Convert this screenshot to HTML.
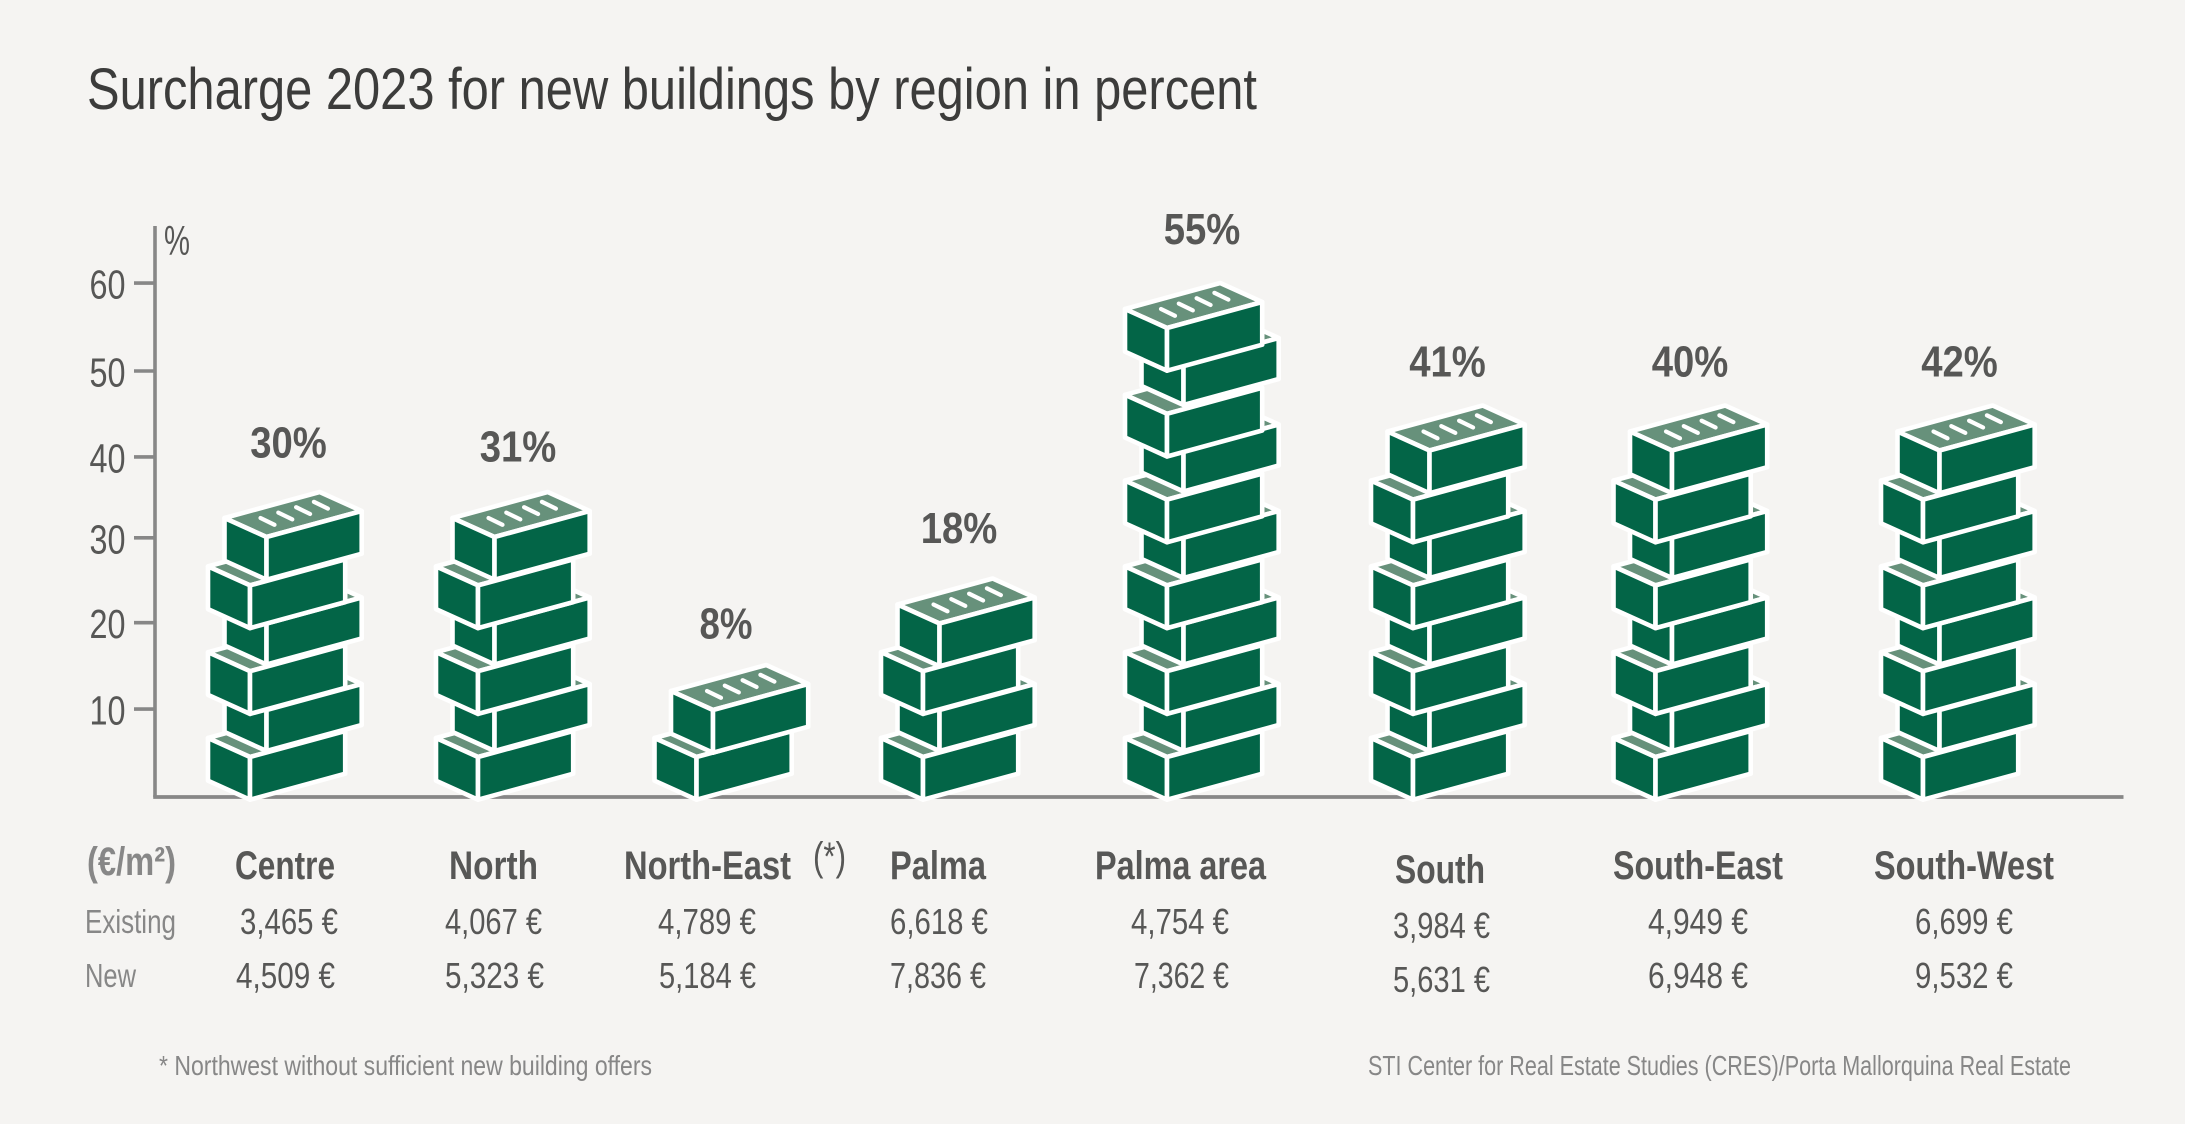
<!DOCTYPE html>
<html lang="en">
<head>
<meta charset="utf-8">
<title>Surcharge 2023 for new buildings by region in percent</title>
<style>
html,body{margin:0;padding:0;background:#f5f4f2;}
svg{display:block;}
text{font-family:"Liberation Sans Narrow","Liberation Sans",sans-serif;}
.dark{fill:#575756;}
.grey{fill:#878787;}
.head{font-size:40px;font-weight:bold;}
.val{font-size:36px;}
.row{font-size:33px;}
.note{font-size:28px;}
</style>
</head>
<body>
<svg id="chart" xmlns="http://www.w3.org/2000/svg" width="2185" height="1124" viewBox="0 0 2185 1124">
  <rect x="0" y="0" width="2185" height="1124" fill="#f5f4f2"/>
  <text x="87" y="109" font-size="58" fill="#3c3c3b" textLength="1170" lengthAdjust="spacingAndGlyphs">Surcharge 2023 for new buildings by region in percent</text>

  <g id="axes"></g>
  <text class="dark" x="164" y="255" font-size="42" textLength="26" lengthAdjust="spacingAndGlyphs">%</text>
  <g id="stacks"></g>

  <g>
    <text class="grey head" x="87" y="875" font-size="38" textLength="89" lengthAdjust="spacingAndGlyphs">(€/m²)</text>
    <text class="grey row" x="85" y="933" textLength="91" lengthAdjust="spacingAndGlyphs">Existing</text>
    <text class="grey row" x="85" y="987" textLength="51" lengthAdjust="spacingAndGlyphs">New</text>

    <text class="dark head" x="235" y="879" textLength="100" lengthAdjust="spacingAndGlyphs">Centre</text>
    <text class="dark head" x="449" y="879" textLength="89" lengthAdjust="spacingAndGlyphs">North</text>
    <text class="dark head" x="624" y="879" textLength="167" lengthAdjust="spacingAndGlyphs">North-East</text>
    <text class="dark" x="813" y="870" font-size="40" textLength="33" lengthAdjust="spacingAndGlyphs">(*)</text>
    <text class="dark head" x="890" y="879" textLength="96" lengthAdjust="spacingAndGlyphs">Palma</text>
    <text class="dark head" x="1095" y="879" textLength="171" lengthAdjust="spacingAndGlyphs">Palma area</text>
    <text class="dark head" x="1395" y="883" textLength="90" lengthAdjust="spacingAndGlyphs">South</text>
    <text class="dark head" x="1613" y="879" textLength="170" lengthAdjust="spacingAndGlyphs">South-East</text>
    <text class="dark head" x="1874" y="879" textLength="180" lengthAdjust="spacingAndGlyphs">South-West</text>

    <text class="dark val" x="240" y="934" textLength="98" lengthAdjust="spacingAndGlyphs">3,465 €</text>
    <text class="dark val" x="445" y="934" textLength="97" lengthAdjust="spacingAndGlyphs">4,067 €</text>
    <text class="dark val" x="658" y="934" textLength="98" lengthAdjust="spacingAndGlyphs">4,789 €</text>
    <text class="dark val" x="890" y="934" textLength="98" lengthAdjust="spacingAndGlyphs">6,618 €</text>
    <text class="dark val" x="1131" y="934" textLength="98" lengthAdjust="spacingAndGlyphs">4,754 €</text>
    <text class="dark val" x="1393" y="938" textLength="97" lengthAdjust="spacingAndGlyphs">3,984 €</text>
    <text class="dark val" x="1648" y="934" textLength="100" lengthAdjust="spacingAndGlyphs">4,949 €</text>
    <text class="dark val" x="1915" y="934" textLength="98" lengthAdjust="spacingAndGlyphs">6,699 €</text>

    <text class="dark val" x="236" y="988" textLength="99" lengthAdjust="spacingAndGlyphs">4,509 €</text>
    <text class="dark val" x="445" y="988" textLength="99" lengthAdjust="spacingAndGlyphs">5,323 €</text>
    <text class="dark val" x="659" y="988" textLength="97" lengthAdjust="spacingAndGlyphs">5,184 €</text>
    <text class="dark val" x="890" y="988" textLength="96" lengthAdjust="spacingAndGlyphs">7,836 €</text>
    <text class="dark val" x="1134" y="988" textLength="95" lengthAdjust="spacingAndGlyphs">7,362 €</text>
    <text class="dark val" x="1393" y="992" textLength="97" lengthAdjust="spacingAndGlyphs">5,631 €</text>
    <text class="dark val" x="1648" y="988" textLength="100" lengthAdjust="spacingAndGlyphs">6,948 €</text>
    <text class="dark val" x="1915" y="988" textLength="98" lengthAdjust="spacingAndGlyphs">9,532 €</text>
  </g>

  <text class="grey note" x="159" y="1075" textLength="493" lengthAdjust="spacingAndGlyphs">* Northwest without sufficient new building offers</text>
  <text class="grey note" x="1368" y="1075" textLength="703" lengthAdjust="spacingAndGlyphs">STI Center for Real Estate Studies (CRES)/Porta Mallorquina Real Estate</text>
</svg>

<script>
// Chart data
const categories = ["Centre", "North", "North-East", "Palma", "Palma area", "South", "South-East", "South-West"];
const surchargePercent = [30, 31, 8, 18, 55, 41, 40, 42];
const yTickValues = [10, 20, 30, 40, 50, 60];
const percentPerBrick = 5;

const SVG_NS = "http://www.w3.org/2000/svg";
const axisGroup = document.getElementById("axes");
const stackGroup = document.getElementById("stacks");

function make(tag, parent, attrs) {
  const el = document.createElementNS(SVG_NS, tag);
  for (const k in attrs) el.setAttribute(k, attrs[k]);
  parent.appendChild(el);
  return el;
}
function slug(s) {
  return s.toLowerCase().replace(/\s+/g, "-");
}

// Axis functions
function yScale(v) {
  return 794.5 - 8.54 * v;
}
// The source's ticks are hand-placed, slightly off a strict linear spacing.
function tickY(t) {
  const nudges = {10: 0, 20: -1, 30: -0.5, 40: 4, 50: 3.5, 60: 1};
  return yScale(t) + (nudges[t] || 0);
}
// Category scale: the source places regions at hand-tuned, uneven horizontal slots.
function xScale(category) {
  const slots = {
    "Centre": 250, "North": 478, "North-East": 696.5, "Palma": 923,
    "Palma area": 1167, "South": 1413, "South-East": 1655.5, "South-West": 1923
  };
  return slots[category];
}
function labelOffsetX(category) {
  const offsets = {
    "Centre": 38.5, "North": 40, "North-East": 29.5, "Palma": 36,
    "Palma area": 35, "South": 34.5, "South-East": 34.5, "South-West": 36.5
  };
  return offsets[category];
}
function labelLift(category) {
  const lifts = {
    "Centre": 34.5, "North": 30.5, "North-East": 26.5, "Palma": 35.5,
    "Palma area": 39, "South": 29, "South-East": 29, "South-West": 29
  };
  return lifts[category];
}
// Brick row geometry: odd rows sit shifted right and closer to the row above.
function rowX(slotX, row) {
  return row % 2 ? slotX + 16.5 : slotX;
}
function rowY(row) {
  return row % 2 ? 710 - 86.5 * (row - 1) / 2 : 757 - 85.8 * row / 2;
}

// Axes
const axisColor = "#878787";
const yAxisLine = make("line", axisGroup, {x1: 155, y1: 226, x2: 155, y2: 797, stroke: axisColor, "stroke-width": 3.6});


const xAxisLine = make("line", axisGroup, {x1: 153.2, y1: 797, x2: 2123.5, y2: 797, stroke: axisColor, "stroke-width": 3.8});



yTickValues.forEach(function (t) {
  const y = tickY(t);
  const tick = make("line", axisGroup, {x1: 134, y1: y, x2: 155, y2: y, stroke: axisColor, "stroke-width": 3.6});
  
  
  const label = make("text", axisGroup, {x: 125.5, y: y + 15.5, "text-anchor": "end", "font-size": 41, fill: "#575756", textLength: 36, lengthAdjust: "spacingAndGlyphs"});
  label.textContent = String(t);
  
  
});

// Brick geometry (offsets from the top-front corner of a brick)
const darkGreen = "#036547";
const lightGreen = "#67917b";
const white = "#ffffff";
const LEFT = [-42, -19];
const RIGHT = [95.2, -26];
const BACK = [53.2, -45];
const FULL_HEIGHT = 42.7;
const TUCKED_HEIGHT = 41;

function pts(list) {
  return list.map(function (p) { return p[0].toFixed(1) + "," + p[1].toFixed(1); }).join(" ");
}

function drawBrick(parent, fx, fy, isTop, height) {
  const L = [fx + LEFT[0], fy + LEFT[1]];
  const R = [fx + RIGHT[0], fy + RIGHT[1]];
  const B = [fx + BACK[0], fy + BACK[1]];
  const F = [fx, fy];
  const common = {stroke: white, "stroke-width": 4.6, "stroke-linejoin": "round"};
  const g = make("g", parent, {});
  
  

  const top = make("polygon", g, Object.assign({points: pts([L, B, R, F]), fill: lightGreen}, common));
  
  

  const left = make("polygon", g, Object.assign({points: pts([L, F, [fx, fy + height], [L[0], L[1] + height]]), fill: darkGreen}, common));
  
  

  const front = make("polygon", g, Object.assign({points: pts([F, R, [R[0], R[1] + height], [fx, fy + height]]), fill: darkGreen}, common));
  
  

  if (isTop) {
    for (let k = 0; k < 4; k++) {
      const dash = make("line", g, {
        x1: fx - 6 + 17.8 * k, y1: fy - 19 - 5.4 * k,
        x2: fx + 8 + 17.8 * k, y2: fy - 12.2 - 5.4 * k,
        stroke: white, "stroke-width": 4.2, "stroke-linecap": "round"
      });
      
      
    }
  }
}

// Stacks: one brick per five percent, drawn bottom-up
categories.forEach(function (category, i) {
  const value = surchargePercent[i];
  const count = Math.max(1, Math.round(value / percentPerBrick));
  const slotX = xScale(category);
  const stack = make("g", stackGroup, {});
  
  
  for (let row = 0; row < count; row++) {
    const isTop = row === count - 1;
    const height = (row % 2 && !isTop) ? TUCKED_HEIGHT : FULL_HEIGHT;
    drawBrick(stack, rowX(slotX, row), rowY(row), isTop, height);
  }
  const topRow = count - 1;
  const backTopY = rowY(topRow) + BACK[1];
  const labelText = value + "%";
  const label = make("text", stackGroup, {
    x: slotX + labelOffsetX(category), y: backTopY - labelLift(category), "text-anchor": "middle",
    "font-size": 44, "font-weight": "bold", fill: "#575756",
    textLength: labelText.length * 23.6 + 5.8, lengthAdjust: "spacingAndGlyphs"
  });
  label.textContent = labelText;
  
  
});
</script>
</body>
</html>
